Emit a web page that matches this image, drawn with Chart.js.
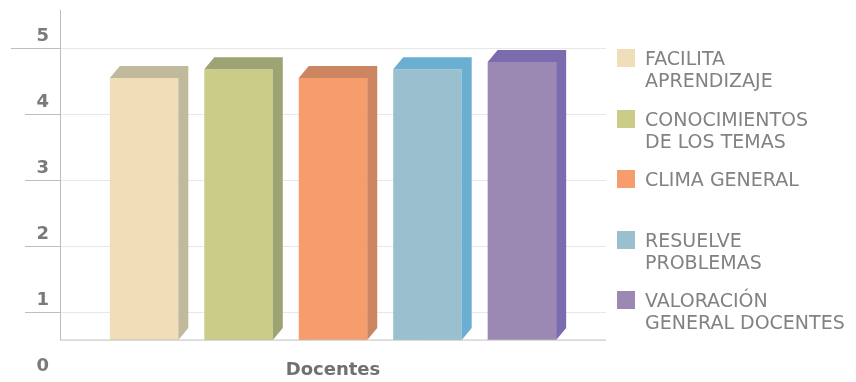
<!DOCTYPE html>
<html>
<head>
<meta charset="utf-8">
<script src="https://cdn.jsdelivr.net/npm/chart.js@4"></script>
<style>
  body { margin: 0; background: #fff; }
  #wrap { position: relative; width: 856px; height: 382px; }
  #legend { position: absolute; left: 617px; top: 47px; font-family: "DejaVu Sans", sans-serif; font-size: 19px; line-height: 22px; color: #828282; }
  .item { position: relative; height: 60.5px; padding-left: 28px; }
  .box { position: absolute; left: 0; top: 2px; width: 18px; height: 18px; }
</style>
</head>
<body>
<div id="wrap">
  <canvas id="chart" width="856" height="382"></canvas>
  <div id="legend"></div>
</div>
<script>
// chart data
const categories = ['Docentes'];
const seriesNames = [
    ['FACILITA', 'APRENDIZAJE'],
    ['CONOCIMIENTOS', 'DE LOS TEMAS'],
    ['CLIMA GENERAL'],
    ['RESUELVE', 'PROBLEMAS'],
    ['VALORACIÓN', 'GENERAL DOCENTES']
];
const seriesValues = [4.55, 4.68, 4.55, 4.68, 4.79];
const yTicks = [0, 1, 2, 3, 4, 5];

const frontColors = ['#F0DEB9', '#CBCC87', '#F79C6C', '#9AC0CF', '#9B89B4'];
const sideColors = ['#C0B99B', '#9EA373', '#CB8560', '#6AAED1', '#7B6CB0'];

const FLOOR = 0.575; // front edge of the 3d floor, in axis units
const DX = 10, DY = -12;

const datasets = seriesNames.map((name, i) => ({
    label: name.join(' '),
    data: [seriesValues[i]],
    base: FLOOR,
    backgroundColor: frontColors[i],
    borderWidth: 0,
    categoryPercentage: 0.865,
    barPercentage: 0.725
}));

// draws top and side faces, the axis line, the floor and the category label
const box3d = {
    id: 'box3d',
    afterDatasetsDraw(chart) {
        const ctx = chart.ctx;
        const area = chart.chartArea;
        const y = chart.scales.y;
        const floorY = y.getPixelForValue(FLOOR);
        chart.data.datasets.forEach((ds, i) => {
            chart.getDatasetMeta(i).data.forEach(bar => {
                const l = bar.x - bar.width / 2, r = bar.x + bar.width / 2;
                const t = bar.y, b = bar.base;
                ctx.fillStyle = sideColors[i];
                ctx.beginPath();
                ctx.moveTo(l, t);
                ctx.lineTo(l + DX, t + DY);
                ctx.lineTo(r + DX, t + DY);
                ctx.lineTo(r + DX, b + DY);
                ctx.lineTo(r, b);
                ctx.lineTo(r, t);
                ctx.closePath();
                ctx.fill();
            });
        });
        ctx.save();
        ctx.strokeStyle = '#bdbdbd';
        ctx.lineWidth = 1;
        ctx.beginPath();
        ctx.moveTo(area.left + 0.5, area.top);
        ctx.lineTo(area.left + 0.5, floorY);
        ctx.lineTo(area.right, floorY);
        // the top tick reaches further left
        const topY = Math.round(y.getPixelForValue(yTicks[yTicks.length - 1])) + 0.5;
        ctx.moveTo(11, topY);
        ctx.lineTo(area.left - 35, topY);
        ctx.stroke();
        ctx.fillStyle = '#707070';
        ctx.font = 'bold 18px "DejaVu Sans"';
        ctx.textAlign = 'center';
        ctx.textBaseline = 'middle';
        const xs = chart.scales.x;
        categories.forEach((c, k) => ctx.fillText(c, xs.getPixelForValue(k), 370));
        ctx.restore();
    }
};

new Chart(document.getElementById('chart'), {
    type: 'bar',
    data: { labels: categories, datasets: datasets },
    options: {
        responsive: false,
        animation: false,
        layout: { padding: { left: 0, right: 250, top: 10, bottom: 4 } },
        plugins: { legend: { display: false }, tooltip: { enabled: false } },
        scales: {
            x: { display: false },
            y: {
                min: 0,
                max: 5.58,
                afterFit: s => { s.width = 60; },
                afterBuildTicks: s => { s.ticks = yTicks.map(v => ({ value: v })); },
                border: { display: false },
                grid: {
                    tickLength: 35,
                    color: c => c.tick && c.tick.value === 0 ? 'rgba(0,0,0,0)' : '#e8e8e8',
                    tickColor: c => c.tick && c.tick.value === 0 ? 'rgba(0,0,0,0)' : '#bdbdbd'
                },
                ticks: {
                    padding: -24,
                    labelOffset: -12,
                    color: '#7a7a7a',
                    font: { family: 'DejaVu Sans', size: 18, weight: 'bold' }
                }
            }
        }
    },
    plugins: [box3d]
});

// html legend
const legend = document.getElementById('legend');
seriesNames.forEach((name, i) => {
    const item = document.createElement('div');
    item.className = 'item';
    item.innerHTML = '<span class="box" style="background:' + frontColors[i] + '"></span>' + name.join('<br>');
    legend.appendChild(item);
});
</script>
</body>
</html>
